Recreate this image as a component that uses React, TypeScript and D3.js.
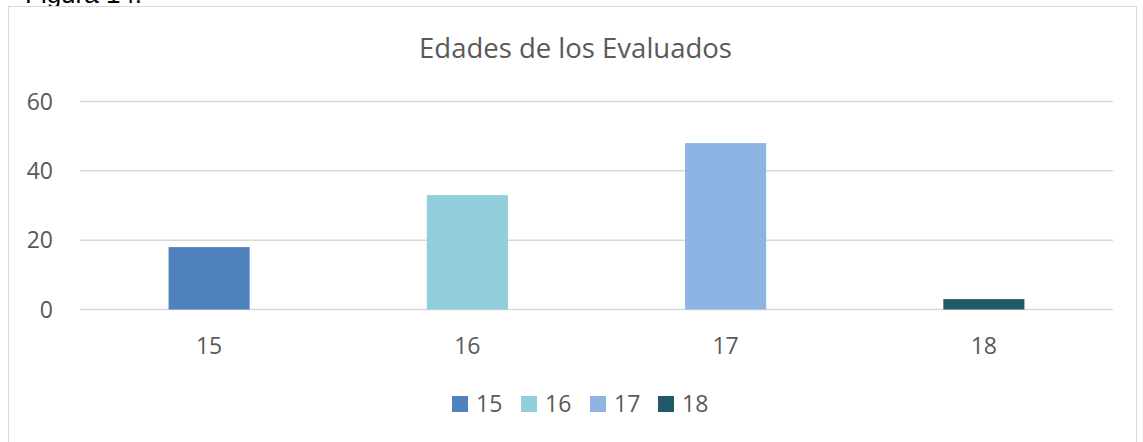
import React from "react";
import * as d3 from "d3";

const categories = ["15", "16", "17", "18"];
const values = [18, 33, 48, 3];
const colors = ["#4F81BD", "#92CDDC", "#8EB4E3", "#215968"];
const yTicks = [0, 20, 40, 60];
const title = "Edades de los Evaluados";
const caption = "Figura 14.";

const W = 1143;
const H = 442;
const FONT = "'Open Sans', 'Noto Sans', sans-serif";
const TEXT = "#595959";

export default function App() {
  const plotLeft = 80;
  const plotRight = 1113;
  const y = d3.scaleLinear().domain([0, 60]).range([309.5, 101.5]);
  const x = d3.scaleBand().domain(categories).range([plotLeft, plotRight]).paddingInner(0).paddingOuter(0);
  const barW = x.bandwidth() * 0.314;

  const legendX = [452, 521, 590, 658];

  return (
    <svg width={W} height={H} style={{ position: "absolute", left: 0, top: 0, background: "#fff" }}>
      <rect x={0} y={0} width={W} height={H} fill="#fff" />
      <text x={25} y={3} fontFamily="'Liberation Sans', Arial, sans-serif" fontSize={26} fill="#000">
        {caption}
      </text>
      <rect x={8.5} y={6.5} width={1128} height={450} fill="#fff" stroke="#D9D9D9" strokeWidth={1} />
      <text x={575.5} y={58} textAnchor="middle" fontFamily={FONT} fontSize={27.5} fill={TEXT}>
        {title}
      </text>
      {yTicks.map((t) => (
        <g key={t}>
          <line x1={plotLeft} x2={plotRight} y1={y(t)} y2={y(t)} stroke="#D9D9D9" strokeWidth={1.5} />
          <text x={53} y={y(t)} dy="0.36em" textAnchor="end" fontFamily={FONT} fontSize={23} fill={TEXT}>
            {t}
          </text>
        </g>
      ))}
      {categories.map((c, i) => {
        const cx = (x(c) as number) + x.bandwidth() / 2;
        return (
          <g key={c}>
            <rect x={cx - barW / 2} y={y(values[i])} width={barW} height={y(0) - y(values[i])} fill={colors[i]} />
            <text x={cx} y={354} textAnchor="middle" fontFamily={FONT} fontSize={23} fill={TEXT}>
              {c}
            </text>
          </g>
        );
      })}
      {categories.map((c, i) => (
        <g key={"lg" + c}>
          <rect x={legendX[i]} y={396} width={16} height={16} fill={colors[i]} />
          <text x={legendX[i] + 24} y={412} fontFamily={FONT} fontSize={23} fill={TEXT}>
            {c}
          </text>
        </g>
      ))}
    </svg>
  );
}
